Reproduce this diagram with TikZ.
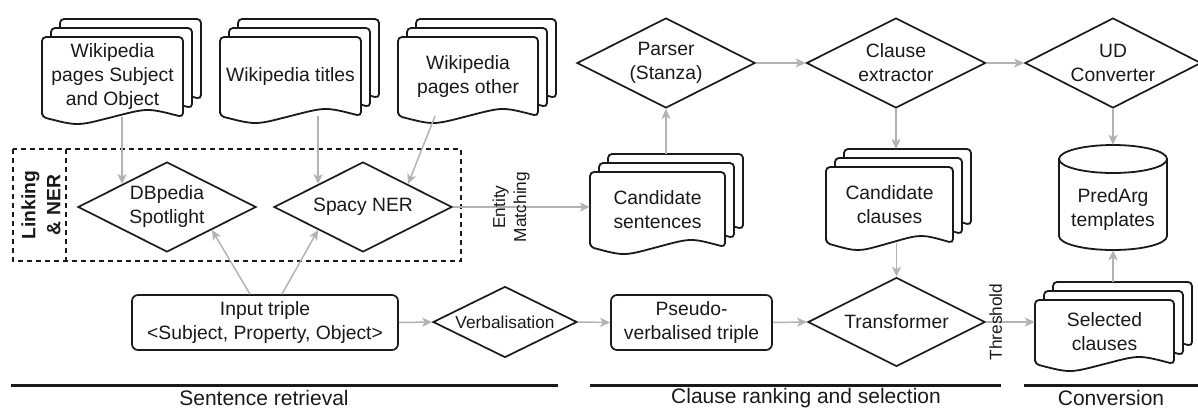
\documentclass[tikz,border=0pt]{standalone}
\usepackage{fontspec}
\setmainfont{Liberation Sans}
\usetikzlibrary{shapes.geometric,arrows.meta}
\definecolor{flowgray}{HTML}{B3B3B3}
\definecolor{ink}{HTML}{1A1A1A}

% stack of three wavy pages: name, left, top, width, height, text
\newcommand{\docstack}[6]{%
  \foreach \sh in {18,9,0}
    \draw[page] (#2+\sh,#3+#5-\sh) -- (#2+\sh,#3-\sh) -- (#2+#4+\sh,#3-\sh) -- (#2+#4+\sh,#3+#5-\sh)
      .. controls (#2+0.75*#4+\sh,#3+#5-\sh-9) .. (#2+0.5*#4+\sh,#3+#5-\sh)
      .. controls (#2+0.25*#4+\sh,#3+#5-\sh+9) .. (#2+\sh,#3+#5-\sh) -- cycle;
  \node[docbox,minimum width=#4pt,minimum height=#5pt] (#1) at (#2+0.5*#4,#3+0.5*#5) {#6};
  \coordinate (#1-back) at (#2+0.5*#4+18,#3-18);
}

\begin{document}
\begin{tikzpicture}[x=1pt,y=-1pt,
  every node/.style={text=ink,font=\fontsize{19.3}{24}\selectfont,align=center,inner sep=0pt},
  dec/.style={diamond,draw=ink,line width=1.7pt,fill=white,aspect=2,minimum width=178pt,minimum height=90pt},
  proc/.style={rectangle,rounded corners=6pt,draw=ink,line width=1.7pt,fill=white,minimum height=55pt},
  page/.style={draw=ink,line width=1.8pt,fill=white,rounded corners=4pt},
  docbox/.style={rectangle},
  flow/.style={draw=flowgray,line width=1.5pt,-{Stealth[length=10pt,width=9pt,inset=2.5pt]}},
  grp/.style={draw=ink,line width=1.4pt,dash pattern=on 5pt off 4pt},
  bar/.style={draw=ink,line width=3pt},
  small/.style={font=\fontsize{17.3}{21}\selectfont},
  sect/.style={font=\fontsize{21}{25}\selectfont}]

  \useasboundingbox (0,0) rectangle (1198,410);

  \docstack{wso}{42}{37}{141}{80}{Wikipedia\\pages Subject\\and Object}
  \docstack{wti}{220}{37}{141}{79}{Wikipedia titles}
  \docstack{wpo}{398}{37}{140}{79}{Wikipedia\\pages other}
  \docstack{cs}{590}{172}{135}{75}{Candidate\\sentences}
  \docstack{cc}{826}{167}{127}{76}{Candidate\\clauses}
  \docstack{sel}{1035}{300}{139}{64}{Selected\\clauses}

  \draw[grp] (13,149) rectangle (461,261);
  \draw[grp] (66,149) -- (66,261);
  \node[rotate=90,font=\fontsize{19.3}{25}\selectfont\bfseries] (lnk) at (41,205) {Linking\\\& NER};

  \node[dec] (dbp) at (167,207) {DBpedia\\Spotlight};
  \node[dec] (spc) at (363,207) {Spacy NER};
  \node[dec] (prs) at (666,63) {Parser\\(Stanza)};
  \node[dec,minimum width=179pt] (clx) at (896,63) {Clause\\extractor};
  \node[dec,minimum width=176pt] (udc) at (1113,63) {UD\\Converter};
  \node[dec,small,minimum width=144pt,minimum height=71pt] (vrb) at (505,322) {Verbalisation};
  \node[dec,minimum width=177pt,minimum height=89pt] (trf) at (896.5,322) {Transformer};

  \node[proc,minimum width=266pt] (inp) at (265,322.5) {Input triple\\<Subject, Property, Object>};
  \node[proc,minimum width=161pt] (psd) at (691.5,322.5) {Pseudo-\\verbalised triple};

  \draw[page,rounded corners=0pt] (1059,159) -- (1059,236) arc[start angle=180,end angle=0,x radius=54,y radius=14] -- (1167,159) -- cycle;
  \draw[page,rounded corners=0pt] (1113,159) ellipse[x radius=54,y radius=14];
  \node[docbox,minimum width=108pt,minimum height=105pt] (pa) at (1113,197.5) {};
  \node (pa-txt) at (1113,210) {PredArg\\templates};

  \draw[flow] (wso.south -| dbp.north west) -- (dbp.north west);
  \draw[flow] (wti.south -| spc.north west) -- (spc.north west);
  \draw[flow] ([xshift=-33pt]wpo.south) -- (spc.north east);
  \draw[flow] ([xshift=-15pt]inp.north) -- (dbp.south east);
  \draw[flow] ([xshift=17pt]inp.north) -- (spc.south west);
  \draw[flow] (spc.east) -- (spc.east -| cs.west)
    node[small,rotate=90,pos=0.44,yshift=2pt] (ematch) {Entity\\Matching};
  \draw[flow] (prs.south |- cs-back) -- (prs.south);
  \draw[flow] (prs.east) -- (clx.west);
  \draw[flow] (clx.east) -- (udc.west);
  \draw[flow] (clx.south) -- (clx.south |- cc-back);
  \draw[flow] (cc.south -| trf.north) -- (trf.north);
  \draw[flow] (udc.south) -- (pa.north);
  \draw[flow] (inp.east) -- (vrb.west);
  \draw[flow] (vrb.east) -- (psd.west);
  \draw[flow] (psd.east) -- (trf.west);
  \draw[flow] (trf.east) -- (trf.east -| sel.west)
    node[small,rotate=90,pos=0.28,yshift=4pt] (thr) {Threshold};
  \draw[flow] (pa.south |- sel-back) -- (pa.south);

  \draw[bar] (11,385) -- (558,385);
  \draw[bar] (590,385) -- (1001,385);
  \draw[bar] (1024,385) -- (1198,385);
  \node[sect] (sret) at (264,398) {Sentence retrieval};
  \node[sect] (crank) at (806,398) {Clause ranking and selection};
  \node[sect] (conv) at (1111,398) {Conversion};
\end{tikzpicture}
\end{document}
